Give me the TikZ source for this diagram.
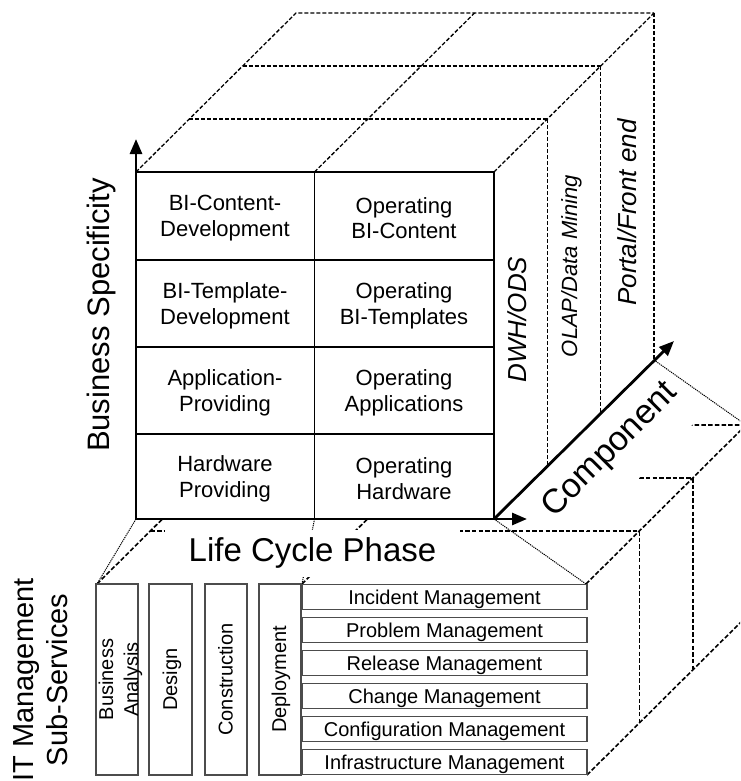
\documentclass[tikz,border=0pt]{standalone}
\usepackage{fontspec}
\setmainfont{Liberation Sans}
\usetikzlibrary{arrows.meta}
\begin{document}
\begin{tikzpicture}[x=1pt,y=-1pt,
  hid/.style={line width=1.6pt,dash pattern=on 4.5pt off 2.2pt},
  tophid/.style={line width=1.3pt,dash pattern=on 4pt off 2pt},
  thindot/.style={line width=1pt,dash pattern=on 1.2pt off 0.9pt},
  gridline/.style={line width=1.3pt},
  axisarrow/.style={line width=2.8pt,-{Triangle[length=15pt,width=12pt]}},
  subbox/.style={draw=black!70,line width=1.1pt},
  celltext/.style={font=\fontsize{22}{25.7}\selectfont,align=center,inner sep=0pt},
  rowtext/.style={font=\fontsize{20}{24}\selectfont,inner sep=0pt,anchor=base},
  coltext/.style={font=\fontsize{20}{25}\selectfont,align=center,inner sep=0pt,rotate=90},
  facetext/.style={inner sep=0pt,rotate=90},
]
\clip (0,0) rectangle (740,781);
\fill[white] (0,0) rectangle (740,781);

% ---- key corners
\coordinate (O) at (136,519);
\coordinate (FTL) at (136,172);
\coordinate (FTM) at (314.5,172);
\coordinate (FTR) at (494,172);
\coordinate (FBM) at (314.5,519);
\coordinate (FBR) at (494,519);
\coordinate (BTL) at (97,584);
\coordinate (BTM) at (302,584);
\coordinate (BTR) at (586,584);
\coordinate (BBR) at (587,775);
\coordinate (D3R) at (654,360);

% ---- hidden lines of the lower block
\draw[hid] (BTL) -- (257,425) -- (746,425);
\draw[hid] (150.3,531) -- (639.3,531);
\draw[hid] (203.7,478) -- (692.7,478);
\draw[hid] (BTM) -- (462,425);
\draw[hid] (BTR) -- (746,425);
\draw[hid] (639.3,531) -- (639.3,722);
\draw[hid] (692.7,478) -- (692.7,669);
\draw[hid] (BBR) -- (747,616);
\draw[thindot] (O) -- (BTL);
\draw[thindot] (FBM) -- (BTM);
\draw[thindot] (FBR) -- (BTR);
\draw[thindot] (D3R) -- (746,425);

% ---- opaque faces of the cube
\fill[white] (FTL) rectangle (FBR);
\fill[white] (FTR) -- (654,13) -- (D3R) -- (FBR) -- cycle;

% ---- top face
\draw[tophid] (FTL) -- (296,13) -- (654,13);
\draw[tophid] (FTM) -- (474.5,13);
\draw[tophid] (FTR) -- (654,13);
\draw[tophid] (189.3,119) -- (547.3,119);
\draw[tophid] (242.7,66) -- (600.7,66);

% ---- right face
\draw[tophid] (547.3,119) -- (547.3,466);
\draw[tophid] (600.7,66) -- (600.7,413);
\draw[tophid] (654,13) -- (D3R);
\node[facetext,font=\itshape\fontsize{26}{30}\selectfont] (dwh) at (517.5,319.5) {DWH/ODS};
\node[facetext,font=\itshape\fontsize{22}{26}\selectfont] (olap) at (571.5,266) {OLAP/Data Mining};
\node[facetext,font=\itshape\fontsize{26}{30}\selectfont] (portal) at (627.5,212.5) {Portal/Front end};

% ---- front matrix
\draw[gridline] (FTL) -- (FTR) -- (FBR);
\draw[gridline] (136,260) -- (494,260);
\draw[gridline] (136,347) -- (494,347);
\draw[gridline] (136,434) -- (494,434);
\draw[gridline] (FTM) -- (FBM);
\node[celltext] (c11) at (225,218) {BI-Content-\\Development};
\node[celltext] (c12) at (404,218) {Operating\\BI-Content};
\node[celltext] (c21) at (225,305.5) {BI-Template-\\Development};
\node[celltext] (c22) at (404,305.5) {Operating\\BI-Templates};
\node[celltext] (c31) at (225,392.5) {Application-\\Providing};
\node[celltext] (c32) at (404,392.5) {Operating\\Applications};
\node[celltext] (c41) at (225,478.5) {Hardware\\Providing};
\node[celltext] (c42) at (404,478.5) {Operating\\Hardware};

% ---- label patches
\node[fill=white,minimum width=295pt,minimum height=47pt,inner sep=0pt,
      font=\fontsize{33}{37}\selectfont] (lcp) at (312.5,553) {Life Cycle Phase};
\fill[white] (534,479) -- (652.5,360.5) -- (704.5,412.5) -- (586,531) -- cycle;
\node[rotate=45,inner sep=0pt,font=\fontsize{34}{38}\selectfont] (comp) at (610.5,450.5) {Component};

% ---- axes
\draw[axisarrow] (O) -- (136,139);
\draw[axisarrow] (O) -- (527,519);
\draw[axisarrow] (FBR) -- (674,341);
\fill (134.6,517.6) rectangle (137.4,520.4);

\node[rotate=90,inner sep=0pt,font=\fontsize{31}{36}\selectfont] (bs) at (101.5,315) {Business Specificity};

% ---- lower block front face
\draw[subbox] (96,584) rectangle (138,775);
\draw[subbox] (149,584) rectangle (192,775);
\draw[subbox] (205,584) rectangle (247,775);
\draw[subbox] (259,584) rectangle (301,775);
\node[coltext] (ba) at (120.5,679.5) {Business\\Analysis};
\node[coltext] (design) at (172,679.5) {Design};
\node[coltext] (constr) at (225.5,679.5) {Construction};
\node[coltext] (deploy) at (281,679.5) {Deployment};

\draw[subbox] (302,584.5) rectangle (587,609.5);
\draw[subbox] (302,617.5) rectangle (587,642.5);
\draw[subbox] (302,650.5) rectangle (587,675.5);
\draw[subbox] (302,683.5) rectangle (587,708.5);
\draw[subbox] (302,716.5) rectangle (587,741.5);
\draw[subbox] (302,749.5) rectangle (587,774.5);
\node[rowtext] (incident) at (444.5,604.5) {Incident Management};
\node[rowtext] (problem) at (444.5,637.5) {Problem Management};
\node[rowtext] (release) at (444.5,670.5) {Release Management};
\node[rowtext] (change) at (444.5,703.5) {Change Management};
\node[rowtext] (config) at (444.5,736.5) {Configuration Management};
\node[rowtext] (infra) at (444.5,769.5) {Infrastructure Management};

\node[rotate=90,align=center,inner sep=0pt,font=\fontsize{29}{34}\selectfont] (itm) at (41,680) {IT Management\\Sub-Services};
\end{tikzpicture}
\end{document}
